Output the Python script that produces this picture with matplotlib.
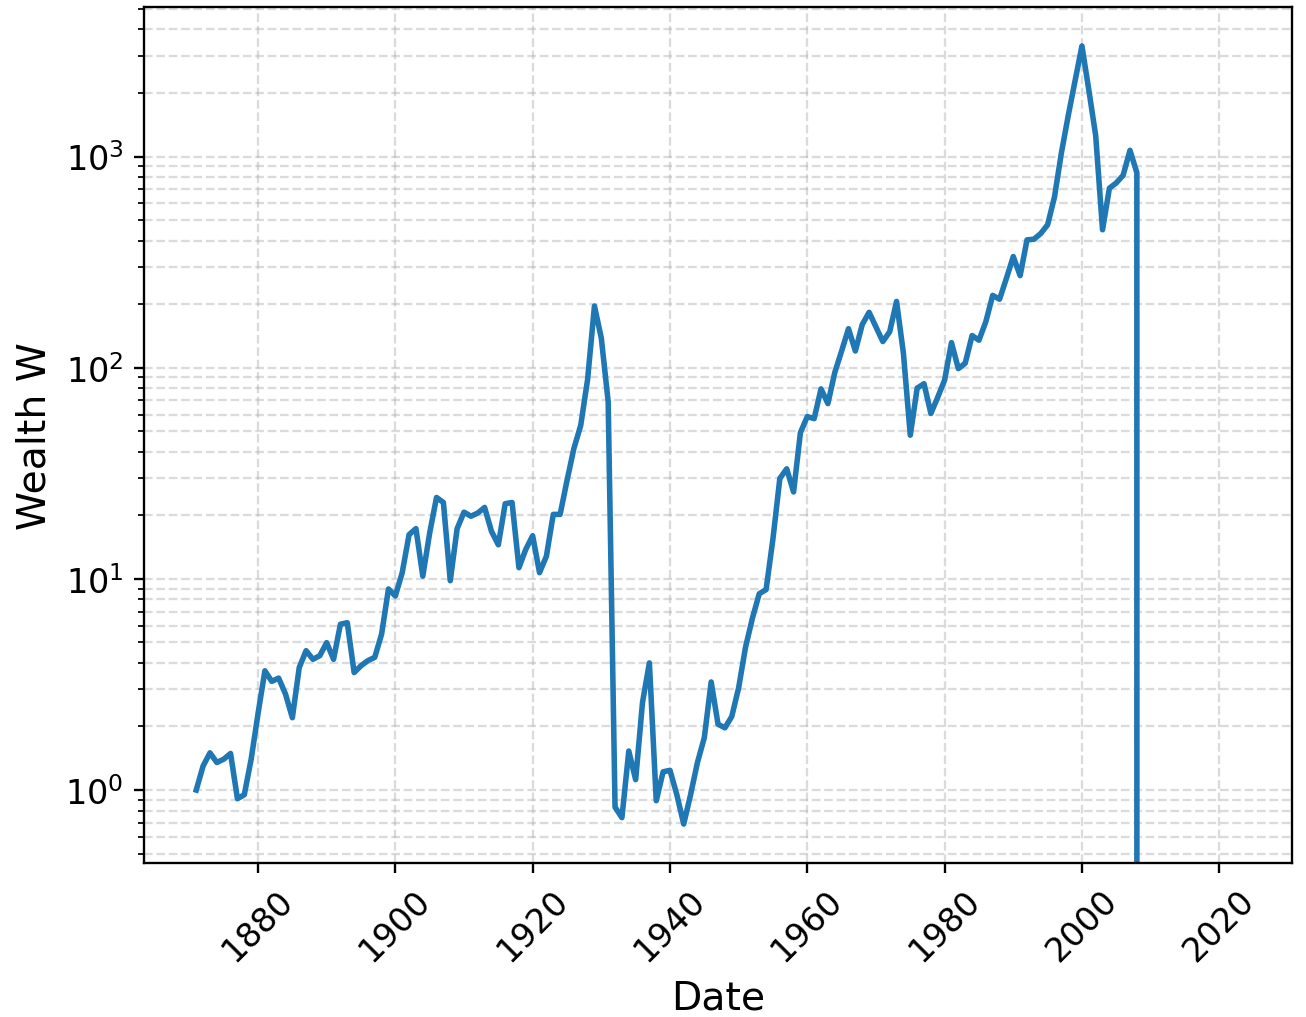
#!/usr/bin/env python3
"""Wealth over time on a log scale (annual values, wiped out after 2008)."""

import matplotlib
matplotlib.use("Agg")
import matplotlib.pyplot as plt
from matplotlib.ticker import MultipleLocator

# ---- Data ------------------------------------------------------------------
years = list(range(1871, 2024))

wealth = [
    # 1871-1900
    1.0, 1.30, 1.50, 1.35, 1.40, 1.49, 0.91, 0.95, 1.40, 2.3,
    3.67, 3.27, 3.39, 2.85, 2.20, 3.8, 4.57, 4.16, 4.33, 4.99,
    4.16, 6.1, 6.2, 3.6, 3.88, 4.1, 4.25, 5.48, 8.96, 8.3,
    # 1901-1930
    10.7, 16.2, 17.3, 10.3, 16.5, 24.3, 23.0, 9.8, 17.3, 20.7,
    19.8, 20.5, 21.8, 16.8, 14.5, 22.7, 23.0, 11.3, 13.8, 16.0,
    10.7, 12.8, 20.2, 20.2, 29.2, 41.4, 53.3, 87.9, 196, 138,
    # 1931-1960
    69, 0.83, 0.74, 1.53, 1.12, 2.6, 4.0, 0.89, 1.22, 1.24,
    0.95, 0.69, 0.95, 1.35, 1.77, 3.25, 2.05, 1.97, 2.23, 3.05,
    4.74, 6.5, 8.5, 8.9, 15.5, 29.9, 33.2, 25.8, 49.3, 58.7,
    # 1961-1990
    57.4, 79.4, 67.6, 94.8, 120, 153, 120, 160, 183, 156,
    133, 148, 206, 117, 47.9, 80, 84, 60.7, 72.5, 87.4,
    131.5, 99, 105, 142, 135, 165, 220, 211, 265, 336,
    # 1991-2008
    273, 403, 406, 432, 475, 643, 1036, 1560, 2280, 3340,
    2070, 1260, 450, 708, 750, 815, 1070, 838,
    # 2009-2023: ruined
    0, 0, 0, 0, 0, 0, 0, 0, 0, 0, 0, 0, 0, 0, 0,
]

# ---- Plot ------------------------------------------------------------------
fig, ax = plt.subplots(figsize=(1306 / 210, 1018 / 210), dpi=210)
fig.subplots_adjust(left=0.1103, right=0.9893, top=0.9921, bottom=0.1513)

ax.plot(years, wealth, color="#1f77b4", linewidth=1.9)
ax.set_yscale("log")

ax.xaxis.set_major_locator(MultipleLocator(20))
ax.tick_params(axis="x", labelrotation=45)
ax.tick_params(axis="both", which="major", labelsize=11.5)

ax.grid(True, which="both", linestyle="--", alpha=0.45)

ax.set_xlabel("Date", fontsize=13.5)
ax.set_ylabel("Wealth W", fontsize=13.5)

fig.savefig("out.png", dpi=210)
plt.close()
